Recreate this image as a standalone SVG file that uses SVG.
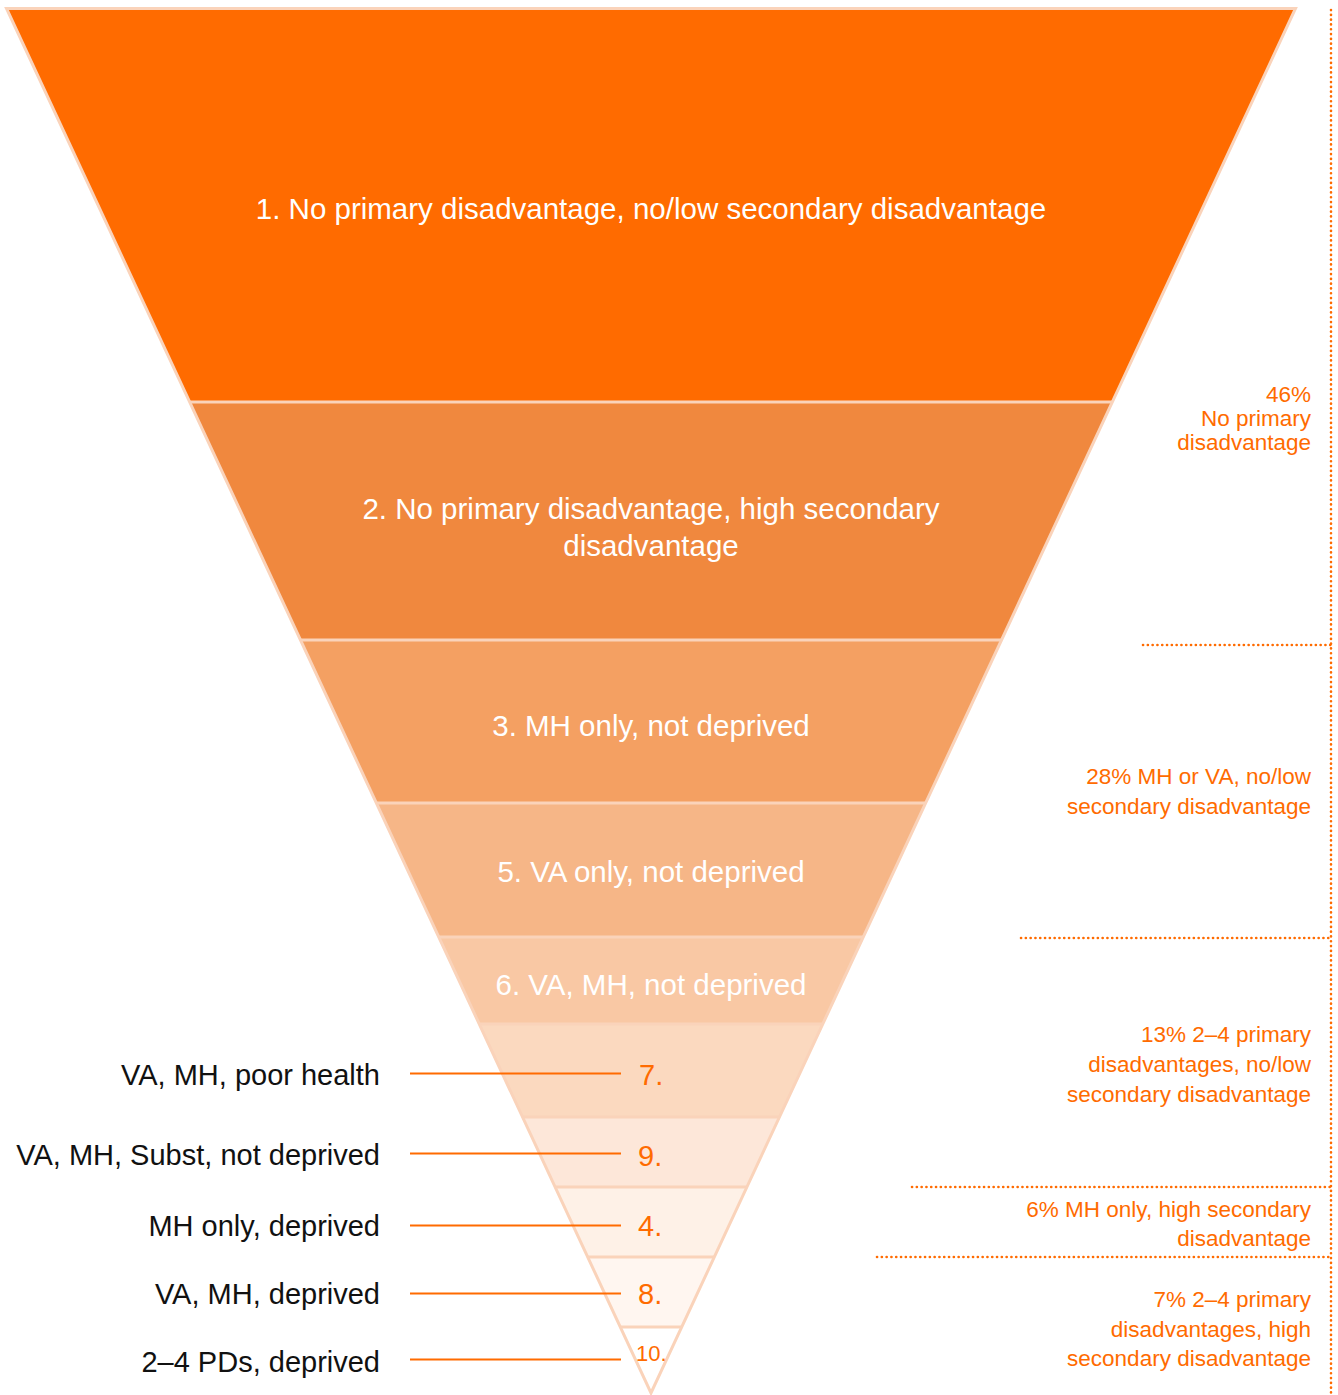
<svg xmlns="http://www.w3.org/2000/svg" width="1338" height="1395" viewBox="0 0 1338 1395">
  <defs>
    <clipPath id="funnel">
      <polygon points="6.5,8.5 1295.5,8.5 651,1393"/>
    </clipPath>
    <style>
      .band-label { font-family: "Liberation Sans", Arial, sans-serif; font-size: 29.5px; fill: #ffffff; text-anchor: middle; }
      .left-label { font-family: "Liberation Sans", Arial, sans-serif; font-size: 29px; fill: #111111; text-anchor: end; }
      .num { font-family: "Liberation Sans", Arial, sans-serif; font-size: 29px; fill: #ff6b00; }
      .right-label { font-family: "Liberation Sans", Arial, sans-serif; font-size: 22.5px; fill: #ff6b00; text-anchor: end; }
      .sep { stroke: #fad3ba; stroke-width: 3; fill: none; }
      .leader { stroke: #ff6b00; stroke-width: 2.2; fill: none; }
      .dots { stroke: #ff6b00; stroke-width: 2.6; stroke-linecap: round; stroke-dasharray: 0.1 4.7; fill: none; }
    </style>
  </defs>

  <g id="funnel-bands" clip-path="url(#funnel)">
    <g id="band-1"><rect x="0" y="8" width="1338" height="394" fill="#ff6b00"/></g>
    <g id="band-2"><rect x="0" y="402" width="1338" height="238" fill="#f0883e"/></g>
    <g id="band-3"><rect x="0" y="640" width="1338" height="163" fill="#f4a062"/></g>
    <g id="band-5"><rect x="0" y="803" width="1338" height="134" fill="#f6b687"/></g>
    <g id="band-6"><rect x="0" y="937" width="1338" height="87" fill="#f9c8a4"/></g>
    <g id="band-7"><rect x="0" y="1024" width="1338" height="93" fill="#fbd9bf"/></g>
    <g id="band-9"><rect x="0" y="1117" width="1338" height="70" fill="#fde7d9"/></g>
    <g id="band-4"><rect x="0" y="1187" width="1338" height="70" fill="#fef1e7"/></g>
    <g id="band-8"><rect x="0" y="1257" width="1338" height="70" fill="#fff6f0"/></g>
    <g id="band-10"><rect x="0" y="1327" width="1338" height="68" fill="#ffffff"/></g>
    <g id="separators">
      <line class="sep" x1="0" y1="402" x2="1338" y2="402"/>
      <line class="sep" x1="0" y1="640" x2="1338" y2="640"/>
      <line class="sep" x1="0" y1="803" x2="1338" y2="803"/>
      <line class="sep" x1="0" y1="937" x2="1338" y2="937"/>
      <line class="sep" x1="0" y1="1024" x2="1338" y2="1024"/>
      <line class="sep" x1="0" y1="1117" x2="1338" y2="1117"/>
      <line class="sep" x1="0" y1="1187" x2="1338" y2="1187"/>
      <line class="sep" x1="0" y1="1257" x2="1338" y2="1257"/>
      <line class="sep" x1="0" y1="1327" x2="1338" y2="1327"/>
    </g>
  </g>
  <polygon id="funnel-outline" class="sep" points="6.5,8.5 1295.5,8.5 651,1393"/>

  <g id="band-labels">
    <text class="band-label" x="651" y="219">1. No primary disadvantage, no/low secondary disadvantage</text>
    <text class="band-label" x="651" y="519">2. No primary disadvantage, high secondary</text>
    <text class="band-label" x="651" y="556">disadvantage</text>
    <text class="band-label" x="651" y="736">3. MH only, not deprived</text>
    <text class="band-label" x="651" y="882">5. VA only, not deprived</text>
    <text class="band-label" x="651" y="995">6. VA, MH, not deprived</text>
  </g>

  <g id="connectors">
    <line class="leader" x1="410" y1="1073.5" x2="621" y2="1073.5"/>
    <line class="leader" x1="410" y1="1153.5" x2="621" y2="1153.5"/>
    <line class="leader" x1="410" y1="1225.5" x2="621" y2="1225.5"/>
    <line class="leader" x1="410" y1="1293.5" x2="621" y2="1293.5"/>
    <line class="leader" x1="410" y1="1359.5" x2="621" y2="1359.5"/>
  </g>

  <g id="small-band-numbers">
    <text class="num" x="639" y="1085">7.</text>
    <text class="num" x="638" y="1166">9.</text>
    <text class="num" x="638" y="1236">4.</text>
    <text class="num" x="638" y="1304">8.</text>
    <text class="num" x="636" y="1361" style="font-size:22px">10.</text>
  </g>

  <g id="left-labels">
    <text class="left-label" x="380" y="1085">VA, MH, poor health</text>
    <text class="left-label" x="380" y="1165">VA, MH, Subst, not deprived</text>
    <text class="left-label" x="380" y="1236">MH only, deprived</text>
    <text class="left-label" x="380" y="1304">VA, MH, deprived</text>
    <text class="left-label" x="380" y="1372">2–4 PDs, deprived</text>
  </g>

  <g id="group-brackets">
    <line class="dots" x1="1331" y1="10" x2="1331" y2="1395"/>
    <line class="dots" x1="1143" y1="645" x2="1331" y2="645"/>
    <line class="dots" x1="1021" y1="938" x2="1331" y2="938"/>
    <line class="dots" x1="912" y1="1187" x2="1331" y2="1187"/>
    <line class="dots" x1="877" y1="1257" x2="1331" y2="1257"/>
  </g>

  <g id="group-labels">
    <text class="right-label" x="1311" y="402">46%</text>
    <text class="right-label" x="1311" y="426">No primary</text>
    <text class="right-label" x="1311" y="450">disadvantage</text>
    <text class="right-label" x="1311" y="784">28% MH or VA, no/low</text>
    <text class="right-label" x="1311" y="814">secondary disadvantage</text>
    <text class="right-label" x="1311" y="1042">13% 2–4 primary</text>
    <text class="right-label" x="1311" y="1072">disadvantages, no/low</text>
    <text class="right-label" x="1311" y="1102">secondary disadvantage</text>
    <text class="right-label" x="1311" y="1217">6% MH only, high secondary</text>
    <text class="right-label" x="1311" y="1246">disadvantage</text>
    <text class="right-label" x="1311" y="1307">7% 2–4 primary</text>
    <text class="right-label" x="1311" y="1337">disadvantages, high</text>
    <text class="right-label" x="1311" y="1366">secondary disadvantage</text>
  </g>
</svg>
